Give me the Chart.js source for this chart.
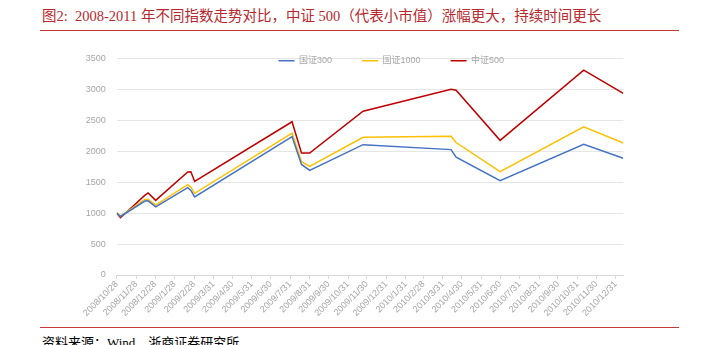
<!DOCTYPE html>
<html><head><meta charset="utf-8">
<script src="https://cdn.jsdelivr.net/npm/chart.js@4.4.0/dist/chart.umd.min.js"></script>
<style>
html,body{margin:0;padding:0;background:#fff;width:706px;height:345px;overflow:hidden;position:relative}
#title{position:absolute;left:42px;top:7px;font-family:"Liberation Serif","Noto Sans CJK SC",serif;font-size:14.5px;color:#b8282d;white-space:nowrap;line-height:18px}
.rule{position:absolute;left:40px;width:639px;height:1.5px;background:#c8373c}
#foot{position:absolute;left:42px;top:335px;font-family:"Liberation Serif","Noto Sans CJK SC",serif;font-size:13px;color:#000;white-space:nowrap;line-height:16px}
#wrap{position:absolute;left:0;top:40px;width:706px;height:285px}
</style></head><body>
<div id="title">图2:&nbsp; 2008-2011 年不同指数走势对比，中证 500（代表小市值）涨幅更大，持续时间更长</div>
<div class="rule" style="top:29.5px"></div>
<div id="wrap"><canvas id="c"></canvas></div>
<div class="rule" style="top:326.5px"></div>
<div id="foot">资料来源：Wind，浙商证券研究所</div>
<script>
const dates = ['2008/10/28','2008/11/3','2008/12/12','2008/12/17','2008/12/29','2009/2/18','2009/2/23','2009/3/1','2009/8/3','2009/8/18','2009/8/31','2009/11/24','2010/4/13','2010/4/21','2010/6/30','2010/11/10','2011/1/12'];
const gz300  = [1000, 945, 1195, 1198, 1100, 1410, 1365, 1262, 2235, 1785, 1690, 2105, 2025, 1905, 1522, 2110, 1885];
const gz1000 = [1000, 950, 1220, 1225, 1130, 1460, 1420, 1320, 2290, 1830, 1755, 2225, 2240, 2140, 1668, 2392, 2132];
const zz500  = [1000, 925, 1290, 1325, 1205, 1665, 1668, 1510, 2475, 1970, 1970, 2645, 3000, 2985, 2175, 3310, 2935];
const tickLabels = ['2008/10/28','2008/11/28','2008/12/28','2009/1/28','2009/2/28','2009/3/31','2009/4/30','2009/5/31','2009/6/30','2009/7/31','2009/8/31','2009/9/30','2009/10/31','2009/11/30','2009/12/31','2010/1/31','2010/2/28','2010/3/31','2010/4/30','2010/5/31','2010/6/30','2010/7/31','2010/8/31','2010/9/30','2010/10/31','2010/11/30','2010/12/31'];
const seriesNames = ['国证300','国证1000','中证500'];
const yTicks = [0,500,1000,1500,2000,2500,3000,3500];

const base = Date.UTC(2008,9,28);
function dayNum(s){const p=s.split('/').map(Number);return (Date.UTC(p[0],p[1]-1,p[2])-base)/86400000;}
const pts = arr => arr.map((v,i)=>({x:dayNum(dates[i]),y:v}));
const tickFont = {family:'"Liberation Sans","Noto Sans CJK SC",sans-serif',size:9};

const legendFix = {
  id:'legendFix',
  beforeLayout(chart){
    if(chart.legend) chart.legend.isHorizontal = () => true;
  },
  afterLayout(chart){
    const l = chart.legend; if(!l) return;
    l.left += 138; l.right += 138; l.top -= 32; l.bottom -= 32;
  }
};

new Chart(document.getElementById('c'),{
  type:'line',
  data:{datasets:[
    {label:seriesNames[0],data:pts(gz300),borderColor:'#4472C4',backgroundColor:'#4472C4',borderWidth:1.5,pointRadius:0,tension:0},
    {label:seriesNames[1],data:pts(gz1000),borderColor:'#FFC000',backgroundColor:'#FFC000',borderWidth:1.5,pointRadius:0,tension:0},
    {label:seriesNames[2],data:pts(zz500),borderColor:'#C00000',backgroundColor:'#C00000',borderWidth:1.5,pointRadius:0,tension:0}
  ]},
  options:{
    responsive:true,maintainAspectRatio:false,animation:false,
    layout:{padding:{left:0,right:82.7,top:18.3,bottom:0}},
    plugins:{
      tooltip:{enabled:false},
      legend:{position:'chartArea',align:'center',
        labels:{usePointStyle:true,pointStyle:'line',pointStyleWidth:16,boxHeight:9,padding:30,color:'#a6a6a6',font:tickFont}}
    },
    scales:{
      x:{type:'linear',min:0,max:dayNum(dates[dates.length-1]),
        afterBuildTicks:s=>{s.ticks=tickLabels.map(l=>({value:dayNum(l)}));},
        afterFit:s=>{s.height=50;},
        grid:{drawOnChartArea:false,drawTicks:true,tickLength:4,color:'#d9d9d9'},
        border:{color:'#d9d9d9'},
        ticks:{autoSkip:false,maxRotation:45,minRotation:45,color:'#a6a6a6',font:tickFont,padding:0,
          callback:(v,i)=>tickLabels[i]}},
      y:{min:0,max:3500,
        afterBuildTicks:s=>{s.ticks=yTicks.map(v=>({value:v}));},
        afterFit:s=>{s.width=116.7;},
        ticks:{color:'#a6a6a6',font:tickFont,padding:11,callback:v=>String(v)},
        grid:{color:'#e6e6e6',drawTicks:false},
        border:{display:false}}
    }
  },
  plugins:[legendFix]
});
</script>
</body></html>
